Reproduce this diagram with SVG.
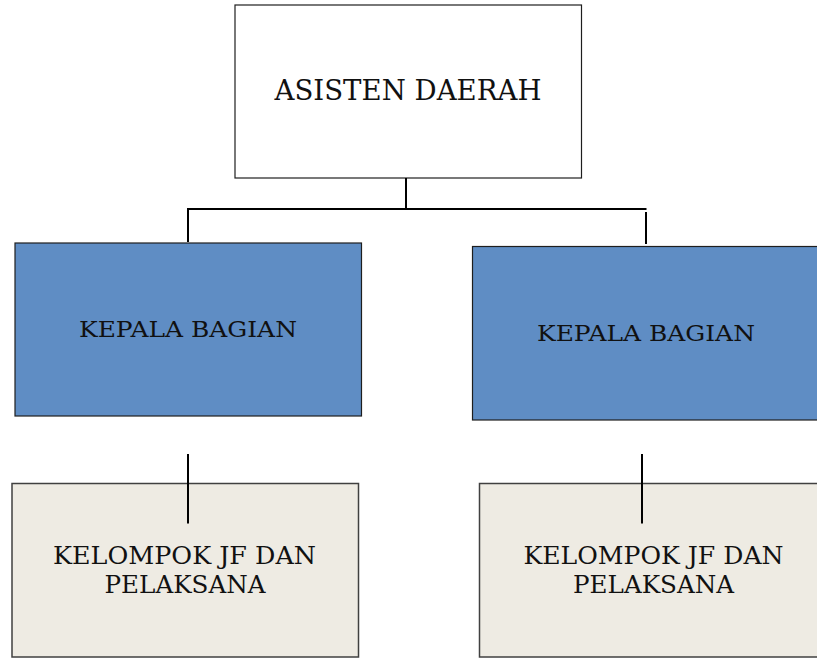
<svg xmlns="http://www.w3.org/2000/svg" width="817" height="658" viewBox="0 0 817 658">
  <style>
    .box { stroke: #1e1e1e; stroke-width: 1.2; }
    .head { fill: #ffffff; }
    .unit { fill: #5f8dc4; }
    .group { fill: #eeebe3; stroke: #404040; stroke-width: 1.5; }
    .label { font-family: "DejaVu Serif", "Liberation Serif", serif; fill: #111111; text-anchor: middle; }
    .link { stroke: #000000; stroke-width: 2; fill: none; }
  </style>
  <rect width="817" height="658" fill="#ffffff"/>

  <g id="asisten-daerah">
    <rect class="box head" x="235" y="5" width="346.5" height="173"/>
    <text class="label" x="408" y="100" font-size="27" textLength="267" lengthAdjust="spacingAndGlyphs">ASISTEN DAERAH</text>
  </g>

  <g id="kepala-bagian-1">
    <rect class="box unit" x="15" y="243" width="346.5" height="173"/>
    <text class="label" x="188" y="337" font-size="23" textLength="218" lengthAdjust="spacingAndGlyphs">KEPALA BAGIAN</text>
  </g>

  <g id="kepala-bagian-2">
    <rect class="box unit" x="472.5" y="246.5" width="346" height="173.5"/>
    <text class="label" x="646" y="341" font-size="23" textLength="218" lengthAdjust="spacingAndGlyphs">KEPALA BAGIAN</text>
  </g>

  <g id="kelompok-1">
    <rect class="group" x="12" y="483.5" width="346.5" height="173.5"/>
    <text class="label" x="184.5" y="564" font-size="25" textLength="263" lengthAdjust="spacingAndGlyphs">KELOMPOK JF DAN</text>
    <text class="label" x="185" y="592.5" font-size="25" textLength="161" lengthAdjust="spacingAndGlyphs">PELAKSANA</text>
  </g>

  <g id="kelompok-2">
    <rect class="group" x="479.5" y="483.5" width="340" height="173.5"/>
    <text class="label" x="653.5" y="564" font-size="25" textLength="260" lengthAdjust="spacingAndGlyphs">KELOMPOK JF DAN</text>
    <text class="label" x="653.5" y="592.5" font-size="25" textLength="161" lengthAdjust="spacingAndGlyphs">PELAKSANA</text>
  </g>

  <g id="connectors">
    <line class="link" x1="406" y1="178" x2="406" y2="209"/>
    <line class="link" x1="187" y1="209" x2="646.5" y2="209"/>
    <line class="link" x1="188" y1="208" x2="188" y2="242"/>
    <line class="link" x1="646" y1="212" x2="646" y2="244"/>
    <line class="link" x1="188" y1="454" x2="188" y2="523.5"/>
    <line class="link" x1="642" y1="454" x2="642" y2="523.5"/>
  </g>
</svg>
